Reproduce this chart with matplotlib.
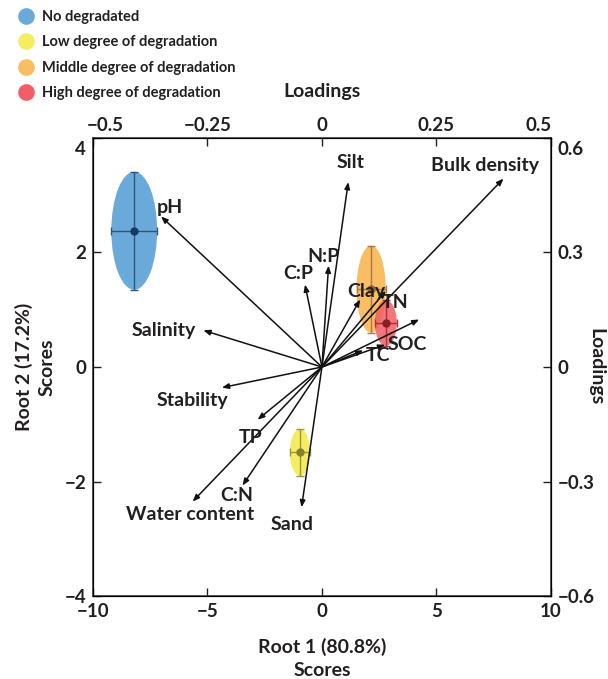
import numpy as np
import matplotlib
matplotlib.use("Agg")
import matplotlib.pyplot as plt
import matplotlib.transforms as mtransforms
from matplotlib.patches import Ellipse, FancyArrowPatch
from matplotlib.lines import Line2D

INK = "#231f20"

plt.rcParams["font.family"] = ["Lato", "DejaVu Sans"]
plt.rcParams["font.weight"] = "bold"
plt.rcParams["axes.labelweight"] = "bold"
plt.rcParams["text.color"] = INK
plt.rcParams["axes.labelcolor"] = INK
plt.rcParams["xtick.color"] = INK
plt.rcParams["ytick.color"] = INK

# group centroids (root 1 / root 2 scores) and their spread
groups = ["No degradated", "Low degree of degradation",
          "Middle degree of degradation", "High degree of degradation"]
cx = [-8.2, -0.96, 2.15, 2.79]
cy = [2.38, -1.49, 1.36, 0.77]
sx = [1.0, 0.44, 0.64, 0.48]
sy = [1.03, 0.41, 0.76, 0.40]
fill_colors = ["#6aaadb", "#f5ec62", "#f9bd64", "#ef5f65"]
fill_alpha = [1.0, 1.0, 1.0, 0.85]
bar_colors = ["#2d5678", "#9a9640", "#a87a45", "#b0303a"]
dot_colors = ["#173b5e", "#858030", "#8c6030", "#8a1c24"]

# variable vectors, in score units
var_names = ["pH", "Silt", "Bulk density", "N:P", "C:P", "Clay", "TN", "",
             "SOC", "TC", "Salinity", "Stability", "TP", "C:N",
             "Water content", "Sand"]
vx = [-7.03, 1.15, 7.93, 0.29, -0.74, 1.67, 2.79, 4.25,
      2.76, 1.80, -5.18, -4.37, -2.81, -3.47, -5.65, -0.89]
vy = [2.63, 3.23, 3.29, 1.77, 1.44, 1.18, 1.33, 0.83,
      0.39, 0.29, 0.64, -0.36, -0.92, -2.07, -2.35, -2.45]
lab_x = [-6.65, 1.24, 7.13, 0.06, -1.03, 1.92, 3.2, 0,
         3.74, 2.45, -6.93, -5.65, -3.13, -3.74, -5.76, -1.32]
lab_y = [2.78, 3.58, 3.52, 1.93, 1.64, 1.32, 1.12, 0,
         0.39, 0.2, 0.63, -0.59, -1.23, -2.25, -2.58, -2.75]

score_x_ticks = [-10, -5, 0, 5, 10]
score_y_ticks = [-4, -2, 0, 2, 4]
load_x_ticks = [-0.5, -0.25, 0, 0.25, 0.5]
load_y_ticks = [-0.6, -0.3, 0, 0.3, 0.6]

FS = 13.5

fig = plt.figure(figsize=(6.08, 6.79), dpi=100)
ax = fig.add_axes([0.153, 0.1222, 0.753, 0.6746])
ax.set_xlim(-10, 10)
ax.set_ylim(-4, 4)

for i in range(len(groups)):
    ax.add_patch(Ellipse((cx[i], cy[i]), 2 * sx[i], 2 * sy[i],
                         facecolor=fill_colors[i], alpha=fill_alpha[i],
                         edgecolor="none", zorder=2))
    ax.errorbar(cx[i], cy[i], xerr=sx[i], yerr=sy[i], fmt="o",
                color=bar_colors[i], ecolor=bar_colors[i], elinewidth=1.0,
                capsize=3, capthick=1.0, markersize=5,
                markerfacecolor=dot_colors[i], markeredgecolor=dot_colors[i],
                zorder=3)

for name, x, y, tx, ty in zip(var_names, vx, vy, lab_x, lab_y):
    ax.add_patch(FancyArrowPatch((0, 0), (x, y),
                                 arrowstyle="-|>,head_length=4,head_width=1.6",
                                 color="#111111", linewidth=1.1,
                                 shrinkA=0, shrinkB=0, zorder=4))
    if name:
        ax.text(tx, ty, name, ha="center", va="center", fontsize=14,
                fontweight="bold", color=INK, zorder=5)

for sp in ax.spines.values():
    sp.set_color("#333333")
    sp.set_linewidth(1.1)

ax.set_xticks(score_x_ticks)
ax.set_yticks(score_y_ticks)
ax.set_xticklabels(["\u221210", "\u22125", "0", "5", "10"])
ax.set_yticklabels(["\u22124", "\u22122", "0", "2", "4"])
ax.tick_params(direction="in", length=6, width=1, labelsize=FS, pad=5)
ax.set_xlabel("Root 1 (80.8%)\nScores", fontsize=14, labelpad=13,
              linespacing=1.4)
ax.set_ylabel("Root 2 (17.2%)\nScores", fontsize=14, labelpad=6,
              linespacing=1.45)

# loadings scale on the opposite spines
ax_top = ax.twiny()
ax_top.set_xlim(-0.5, 0.5)
ax_top.set_xticks(load_x_ticks)
ax_top.set_xticklabels(["\u22120.5", "\u22120.25", "0", "0.25", "0.5"])
ax_top.tick_params(direction="in", length=6, width=1, labelsize=FS, pad=3)
ax_top.set_xlabel("Loadings", fontsize=14, labelpad=14)

ax_right = ax.twinx()
ax_right.set_ylim(-0.6, 0.6)
ax_right.set_yticks(load_y_ticks)
ax_right.set_yticklabels(["\u22120.6", "\u22120.3", "0", "0.3", "0.6"])
ax_right.tick_params(direction="in", length=6, width=1, labelsize=FS, pad=5)
ax_right.set_ylabel("Loadings", fontsize=14, rotation=270, labelpad=7)

# nudge the end labels inward, away from the corners
def nudge(label, dx, dy):
    label.set_transform(label.get_transform() +
                        mtransforms.ScaledTranslation(dx / 72, dy / 72,
                                                      fig.dpi_scale_trans))

top_labels = ax_top.get_xticklabels()
nudge(top_labels[0], 9, 0)
nudge(top_labels[-1], -9, 0)
nudge(ax.get_yticklabels()[-1], 0, -7)
nudge(ax_right.get_yticklabels()[-1], 0, -7)

handles = [Line2D([], [], linestyle="none", marker="o", markersize=12,
                  markerfacecolor=c, markeredgecolor="none")
           for c in fill_colors]
fig.legend(handles, groups, loc="upper left", bbox_to_anchor=(0.012, 0.998),
           frameon=False, handletextpad=0.35, labelspacing=0.78,
           borderaxespad=0.2, handlelength=1.4,
           prop={"weight": "bold", "size": 10.5})

fig.savefig("out.png", dpi=100)
